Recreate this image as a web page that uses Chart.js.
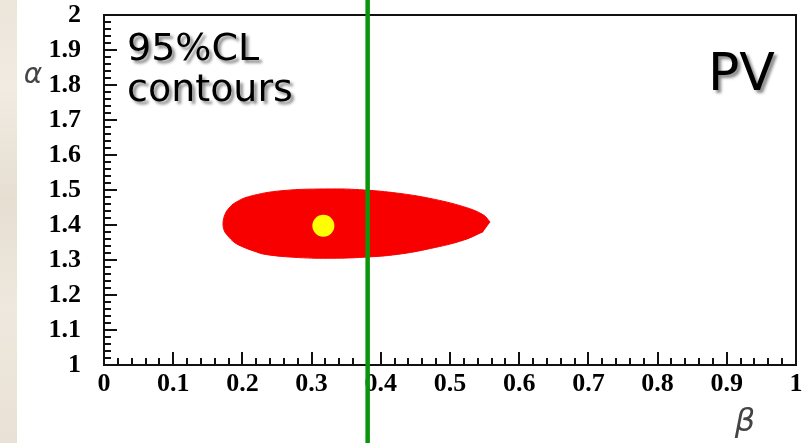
<!DOCTYPE html>
<html>
<head>
<meta charset="utf-8">
<script src="https://cdn.jsdelivr.net/npm/chart.js@4.4.1/dist/chart.umd.min.js"></script>
<style>
  html, body { margin: 0; padding: 0; background: #fff; }
  #wrap { position: relative; width: 807px; height: 443px; overflow: hidden; }
  #marble {
    position: absolute; left: 0; top: 0; width: 17px; height: 443px;
    background: linear-gradient(180deg, #ece5da 0%, #f1ebe2 20%, #e6ded1 45%, #efe8de 70%, #e9e1d5 100%);
  }
  #plot { position: absolute; left: 0; top: 0; }
</style>
</head>
<body>
<div id="wrap">
  <div id="marble"></div>
  <canvas id="plot" width="807" height="443"></canvas>
</div>
<script>
// 95% CL contour (beta, alpha), upper and lower edges
const contourUpperX = [0.172, 0.175, 0.181, 0.189, 0.209, 0.257, 0.329, 0.376, 0.424, 0.471, 0.520, 0.548, 0.558];
const contourUpperY = [1.405, 1.431, 1.449, 1.463, 1.481, 1.498, 1.503, 1.500, 1.491, 1.476, 1.452, 1.429, 1.408];
const contourLowerX = [0.172, 0.174, 0.179, 0.188, 0.200, 0.216, 0.233, 0.281, 0.329, 0.376, 0.424, 0.472, 0.520, 0.548, 0.558];
const contourLowerY = [1.405, 1.383, 1.369, 1.351, 1.338, 1.326, 1.316, 1.307, 1.305, 1.308, 1.316, 1.333, 1.357, 1.381, 1.408];

// best fit point
const bestFit = { x: 0.317, y: 1.398 };

// vertical limit on beta
const betaLimit = 0.381;

const xTickLabels = ['0', '0.1', '0.2', '0.3', '0.4', '0.5', '0.6', '0.7', '0.8', '0.9', '1'];
const yTickLabels = ['1', '1.1', '1.2', '1.3', '1.4', '1.5', '1.6', '1.7', '1.8', '1.9', '2'];

const toPoints = (xs, ys) => xs.map((x, i) => ({ x: x, y: ys[i] }));

// closed outline: right tip -> along the top -> left tip -> along the bottom
const contourLoop = toPoints(contourUpperX, contourUpperY).reverse()
  .concat(toPoints(contourLowerX, contourLowerY).slice(1, -1));

// frame + inner tick marks (major every 0.1, minor every 0.02)
const frameTicks = {
  id: 'frameTicks',
  afterDatasetsDraw(chart) {
    const { ctx, chartArea: a, scales } = chart;
    ctx.save();
    ctx.strokeStyle = '#111';
    ctx.lineWidth = 2;
    for (let i = 0; i <= 50; i++) {
      const len = i % 5 === 0 ? 13 : 7;
      const px = Math.round(scales.x.getPixelForValue(i / 50));
      ctx.beginPath();
      ctx.moveTo(px, a.bottom);
      ctx.lineTo(px, a.bottom - len);
      ctx.stroke();
      const py = Math.round(scales.y.getPixelForValue(1 + i / 50));
      ctx.beginPath();
      ctx.moveTo(a.left, py);
      ctx.lineTo(a.left + len, py);
      ctx.stroke();
    }
    ctx.strokeRect(a.left, a.top, a.right - a.left, a.bottom - a.top);
    ctx.restore();
  }
};

// green vertical line across the whole picture, plus labels
const overlay = {
  id: 'overlay',
  afterDraw(chart) {
    const { ctx, scales } = chart;
    ctx.save();
    const gx = scales.x.getPixelForValue(betaLimit);
    ctx.strokeStyle = '#0a960a';
    ctx.lineWidth = 4.5;
    ctx.beginPath();
    ctx.moveTo(gx, 0);
    ctx.lineTo(gx, chart.height);
    ctx.stroke();

    // axis symbols
    ctx.fillStyle = '#444';
    ctx.textAlign = 'center';
    ctx.textBaseline = 'middle';
    ctx.font = 'italic 28px "DejaVu Sans"';
    ctx.fillText('\u03b1', 33, 76);
    ctx.font = 'italic 32px "DejaVu Sans"';
    ctx.fillText('\u03b2', 745, 423);

    // comic-style annotations with drop shadow
    ctx.shadowColor = 'rgba(0,0,0,0.45)';
    ctx.shadowOffsetX = 3;
    ctx.shadowOffsetY = 3;
    ctx.shadowBlur = 3;
    ctx.fillStyle = '#000';
    ctx.textAlign = 'left';
    ctx.textBaseline = 'alphabetic';
    ctx.font = '38px "Comic Sans MS", "DejaVu Sans", sans-serif';
    ctx.fillText('95%CL', 127, 60);
    ctx.fillText('contours', 127, 101);
    ctx.font = '52px "Comic Sans MS", "DejaVu Sans", sans-serif';
    ctx.fillText('PV', 708, 90);
    ctx.restore();
  }
};

new Chart(document.getElementById('plot'), {
  type: 'scatter',
  data: {
    datasets: [
      {
        label: 'best fit',
        data: [bestFit],
        backgroundColor: '#ffff00',
        borderWidth: 0,
        pointRadius: 11,
        order: 0
      },
      {
        label: '95% CL contour',
        data: contourLoop,
        showLine: true,
        tension: 0.4,
        borderColor: '#f80000',
        borderWidth: 1,
        backgroundColor: '#f80000',
        pointRadius: 0,
        fill: 'shape',
        order: 1
      }
    ]
  },
  options: {
    responsive: false,
    animation: false,
    devicePixelRatio: 1,
    layout: { padding: { top: 15, right: 5, left: 0, bottom: 0 } },
    plugins: {
      legend: { display: false },
      tooltip: { enabled: false }
    },
    scales: {
      x: {
        type: 'linear',
        min: 0,
        max: 1,
        grid: { display: false },
        border: { display: false },
        ticks: {
          stepSize: 0.1,
          padding: -4,
          maxRotation: 0,
          autoSkip: false,
          color: '#000',
          font: { family: '"Liberation Serif"', weight: 'bold', size: 26 },
          callback: (v, i) => xTickLabels[i]
        },
        afterFit(scale) {
          scale.height = 78;
          scale.paddingLeft = 0;
          scale.paddingRight = 0;
        }
      },
      y: {
        type: 'linear',
        min: 1,
        max: 2,
        grid: { display: false },
        border: { display: false },
        ticks: {
          stepSize: 0.1,
          padding: 15,
          autoSkip: false,
          color: '#000',
          font: { family: '"Liberation Serif"', weight: 'bold', size: 26 },
          callback: (v, i) => yTickLabels[i]
        },
        afterFit(scale) {
          scale.width = 104;
          scale.paddingTop = 0;
          scale.paddingBottom = 0;
        }
      }
    }
  },
  plugins: [frameTicks, overlay]
});
</script>
</body>
</html>
